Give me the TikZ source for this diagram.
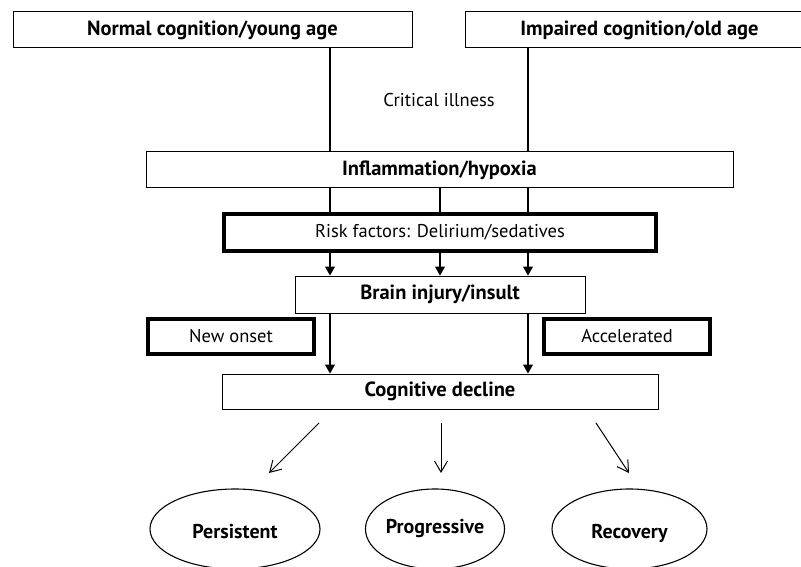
\documentclass[tikz,border=0pt]{standalone}
\usepackage{fontspec}
\setmainfont{PT Sans}
\usetikzlibrary{arrows.meta,shapes.geometric}
\begin{document}
\begin{tikzpicture}[x=1pt,y=-1pt,
  lbl/.style={font=\fontsize{18.5}{22}\selectfont},
  box/.style={draw, rectangle, line width=1pt, inner sep=0pt,
    font=\bfseries\fontsize{20.5}{24}\selectfont},
  thickbox/.style={draw, rectangle, line width=3.4pt, inner sep=0pt,
    font=\fontsize{18.5}{22}\selectfont},
  oval/.style={draw, ellipse, line width=1.1pt, inner sep=0pt,
    minimum height=80pt, text height=14pt, text depth=0pt,
    font=\bfseries\fontsize{20}{24}\selectfont},
  link/.style={line width=1.1pt},
  solidarrow/.style={line width=1.1pt, -{Triangle[length=9pt,width=10pt]}},
  openarrow/.style={line width=1pt, -{Straight Barb[length=11pt,width=13pt]}}
]
\useasboundingbox (0,0) rectangle (801,567);
\fill[white] (0,0) rectangle (801,567);

% column positions of the vertical connectors
\coordinate (cl) at (330,0);
\coordinate (cm) at (440,0);
\coordinate (cr) at (528,0);

% starting states
\node[box, minimum width=399pt, minimum height=36pt] (normal) at (212.5,30) {Normal cognition/young age};
\node[box, minimum width=349pt, minimum height=36pt] (impaired) at (639.5,30) {Impaired cognition/old age};
\node[lbl] (critical) at (439,100) {Critical illness};

% mechanism chain
\node[box, minimum width=587pt, minimum height=36pt] (inflam) at (439.5,170) {Inflammation/hypoxia};
\node[thickbox, minimum width=432pt, minimum height=37pt] (risk) at (440,232.5) {Risk factors: Delirium/sedatives};
\node[box, minimum width=290pt, minimum height=37pt] (brain) at (440,294.5) {Brain injury/insult};
\node[thickbox, minimum width=166pt, minimum height=35pt] (onset) at (231,336.5) {New onset};
\node[thickbox, minimum width=166pt, minimum height=35pt] (accel) at (627,336.5) {Accelerated};
\node[box, minimum width=436pt, minimum height=35pt] (decline) at (440,391.5) {Cognitive decline};

% trajectories
\node[oval, minimum width=170pt] (persist) at (235,529) {\raisebox{-2pt}{Persistent}};
\node[oval, minimum width=138pt] (progress) at (435,529) {\raisebox{3pt}{Progressive}};
\node[oval, minimum width=155pt] (recover) at (629.5,529) {\raisebox{-2pt}{Recovery}};

% connectors
\draw[link] (normal.south -| cl) -- (inflam.north -| cl);
\draw[link] (impaired.south -| cr) -- (inflam.north -| cr);
\foreach \c in {cl,cm,cr} {
  \draw[link] (inflam.south -| \c) -- (risk.north -| \c);
  \draw[solidarrow] (risk.south -| \c) -- (brain.north -| \c);
}
\draw[solidarrow] (brain.south -| cl) -- (decline.north -| cl);
\draw[solidarrow] (brain.south -| cr) -- (decline.north -| cr);

% outcome arrows below the decline box
\coordinate (pa) at (319,423);
\coordinate (pb) at (269,473);
\coordinate (qa) at (441,423);
\coordinate (qb) at (441,473);
\coordinate (ra) at (596,423);
\coordinate (rb) at (629,473);
\draw[openarrow] (pa) -- (pb);
\draw[openarrow] (qa) -- (qb);
\draw[openarrow] (ra) -- (rb);
\end{tikzpicture}
\end{document}
